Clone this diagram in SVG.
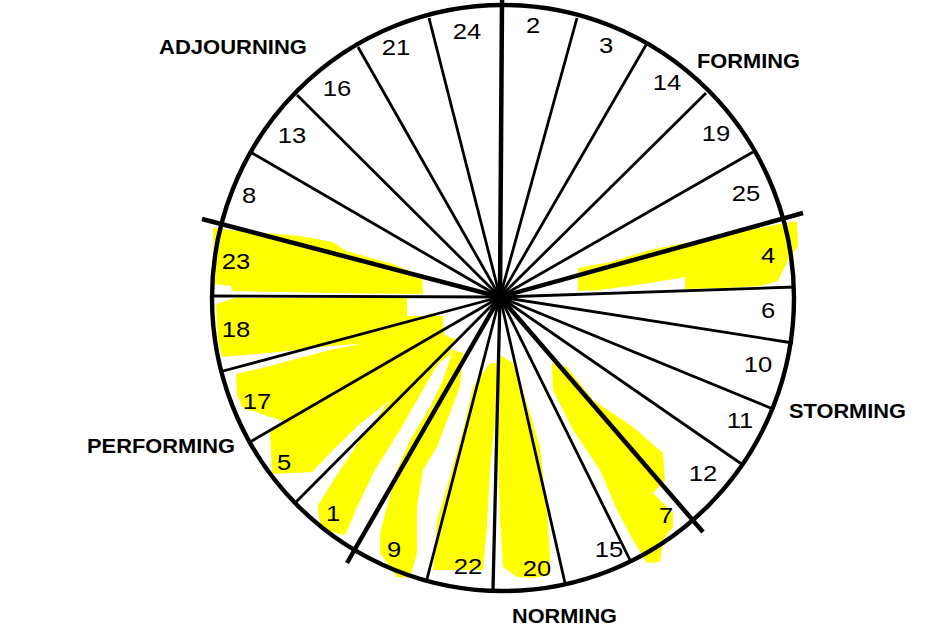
<svg xmlns="http://www.w3.org/2000/svg" width="952" height="630" viewBox="0 0 952 630">
<style>
.hl{fill:#ffff00;stroke:none}
.sp{stroke:#000;stroke-width:2.8;fill:none;stroke-linecap:butt}
.tk{stroke:#000;stroke-width:4.5;fill:none}
.ring{stroke:#000;stroke-width:4.4;fill:none}
.n{font-family:"Liberation Sans",Arial,sans-serif;font-size:21.5px;fill:#000;text-anchor:middle}
.ph{font-family:"Liberation Sans",Arial,sans-serif;font-size:19.5px;font-weight:bold;fill:#000}
</style>
<rect width="952" height="630" fill="#fff"/>
<g id="highlights">
<polygon class="hl" points="578,268 610,262 650,250 700,240 737,232 797,221 798,246 788,260 778,281 760,286 722,288 685,289 685,277 650,283 600,290 578,291"/>
<polygon class="hl" points="213,228 230,230 300,236 333,242 346,251 393,264 422,276 423,294 330,293 232,291 231,286 214,284"/>
<polygon class="hl" points="216,304 235,298 407,298 407,316 443,316 443,338 330,346 278,352 222,357 218,340"/>
<polygon class="hl" points="236,374 262,368 330,350 443,328 447,345 440,352 400,368 360,388 320,408 285,422 265,415 243,408 237,395"/>
<polygon class="hl" points="270,432 300,412 350,386 400,362 440,343 455,338 450,355 420,377 390,400 360,424 335,448 312,472 272,474"/>
<polygon class="hl" points="318,512 322,530 345,535 358,505 375,470 400,430 420,395 440,360 455,340 445,335 420,362 390,400 360,440 335,478 318,505"/>
<polygon class="hl" points="380,533 380,553 397,577 410,578 417,553 417,507 423,470 437,447 450,413 460,387 463,353 453,350 443,380 430,407 410,440 397,470 387,507"/>
<polygon class="hl" points="490,363 473,387 463,430 447,487 437,520 433,570 483,570 487,527 490,470 495,420 497,363"/>
<polygon class="hl" points="500,355 513,363 530,413 540,447 547,510 550,553 550,575 533,578 517,577 503,567 500,520 498,453"/>
<polygon class="hl" points="552,363 567,367 593,400 633,427 663,453 665,480 653,493 673,513 673,527 663,540 660,562 647,563 633,540 617,510 600,470 573,430 553,390"/>
</g>
<g id="connectors">
<line class="tk" x1="500" y1="297" x2="502" y2="0"/>
<line class="sp" x1="500" y1="297" x2="577" y2="18"/>
<line class="sp" x1="500" y1="297" x2="646" y2="45"/>
<line class="sp" x1="500" y1="297" x2="706" y2="93"/>
<line class="sp" x1="500" y1="297" x2="753" y2="152"/>
<line class="tk" x1="500" y1="297" x2="803" y2="213"/>
<line class="sp" x1="500" y1="297" x2="795" y2="287"/>
<line class="sp" x1="500" y1="297" x2="793" y2="343"/>
<line class="sp" x1="500" y1="297" x2="773" y2="409"/>
<line class="sp" x1="500" y1="297" x2="743" y2="465"/>
<line class="tk" x1="500" y1="297" x2="703" y2="532"/>
<line class="sp" x1="500" y1="297" x2="630" y2="560"/>
<line class="sp" x1="500" y1="297" x2="565" y2="583"/>
<line class="sp" x1="500" y1="297" x2="493" y2="590" style="stroke-width:3.3"/>
<line class="sp" x1="500" y1="297" x2="427" y2="579"/>
<line class="tk" x1="500" y1="297" x2="347" y2="563"/>
<line class="sp" x1="500" y1="297" x2="296" y2="502"/>
<line class="sp" x1="500" y1="297" x2="250" y2="442"/>
<line class="sp" x1="500" y1="297" x2="223" y2="371"/>
<line class="sp" x1="500" y1="297" x2="212" y2="296"/>
<line class="tk" x1="500" y1="297" x2="202" y2="219"/>
<line class="sp" x1="500" y1="297" x2="252" y2="153"/>
<line class="sp" x1="500" y1="297" x2="297" y2="95"/>
<line class="sp" x1="500" y1="297" x2="358" y2="47"/>
<line class="sp" x1="500" y1="297" x2="429" y2="18"/>
<circle cx="500" cy="297" r="5" fill="#000"/>
</g>
<g id="ring"><ellipse class="ring" cx="503" cy="298" rx="291" ry="293"/></g>
<g id="segments">
<g id="seg-24"><text class="n" transform="translate(467,39) scale(1.19,1)">24</text></g>
<g id="seg-2"><text class="n" transform="translate(533,33) scale(1.19,1)">2</text></g>
<g id="seg-3"><text class="n" transform="translate(606,53) scale(1.19,1)">3</text></g>
<g id="seg-14"><text class="n" transform="translate(667,90) scale(1.19,1)">14</text></g>
<g id="seg-19"><text class="n" transform="translate(716,141) scale(1.19,1)">19</text></g>
<g id="seg-25"><text class="n" transform="translate(746,201) scale(1.19,1)">25</text></g>
<g id="seg-4"><text class="n" transform="translate(768,263) scale(1.19,1)">4</text></g>
<g id="seg-6"><text class="n" transform="translate(768,318) scale(1.19,1)">6</text></g>
<g id="seg-10"><text class="n" transform="translate(758,372) scale(1.19,1)">10</text></g>
<g id="seg-11"><text class="n" transform="translate(740,428) scale(1.19,1)">11</text></g>
<g id="seg-12"><text class="n" transform="translate(703,481) scale(1.19,1)">12</text></g>
<g id="seg-7"><text class="n" transform="translate(666,523) scale(1.19,1)">7</text></g>
<g id="seg-15"><text class="n" transform="translate(609,557) scale(1.19,1)">15</text></g>
<g id="seg-20"><text class="n" transform="translate(537,576) scale(1.19,1)">20</text></g>
<g id="seg-22"><text class="n" transform="translate(468,574) scale(1.19,1)">22</text></g>
<g id="seg-9"><text class="n" transform="translate(394,557) scale(1.19,1)">9</text></g>
<g id="seg-1"><text class="n" transform="translate(333,521) scale(1.19,1)">1</text></g>
<g id="seg-5"><text class="n" transform="translate(284,470) scale(1.19,1)">5</text></g>
<g id="seg-17"><text class="n" transform="translate(257,409) scale(1.19,1)">17</text></g>
<g id="seg-18"><text class="n" transform="translate(236,337) scale(1.19,1)">18</text></g>
<g id="seg-23"><text class="n" transform="translate(236,269) scale(1.19,1)">23</text></g>
<g id="seg-8"><text class="n" transform="translate(249,203) scale(1.19,1)">8</text></g>
<g id="seg-13"><text class="n" transform="translate(292,143) scale(1.19,1)">13</text></g>
<g id="seg-16"><text class="n" transform="translate(337,96) scale(1.19,1)">16</text></g>
<g id="seg-21"><text class="n" transform="translate(396,55) scale(1.19,1)">21</text></g>
</g>
<g id="phases">
<g id="phase-adjourning"><text class="ph" x="159" y="54" textLength="148" lengthAdjust="spacingAndGlyphs">ADJOURNING</text></g>
<g id="phase-forming"><text class="ph" x="697" y="68" textLength="103" lengthAdjust="spacingAndGlyphs">FORMING</text></g>
<g id="phase-storming"><text class="ph" x="789" y="418" textLength="117" lengthAdjust="spacingAndGlyphs">STORMING</text></g>
<g id="phase-performing"><text class="ph" x="87" y="453" textLength="148" lengthAdjust="spacingAndGlyphs">PERFORMING</text></g>
<g id="phase-norming"><text class="ph" x="512" y="623" textLength="105" lengthAdjust="spacingAndGlyphs">NORMING</text></g>
</g>
</svg>
